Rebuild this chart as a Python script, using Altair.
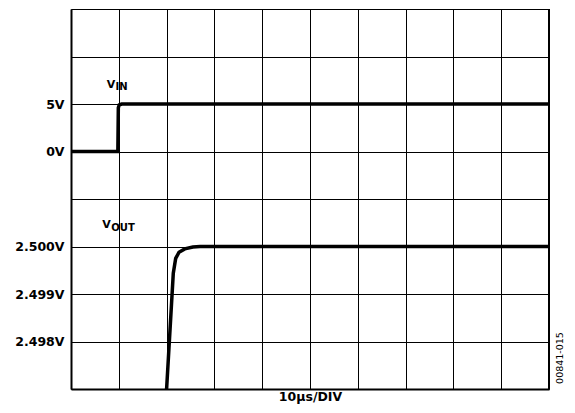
import altair as alt
import pandas as pd

# time axis: 10 us per division, 10 divisions
t_ticks = [0, 10, 20, 30, 40, 50, 60, 70, 80, 90, 100]
div_ticks = [0, 1, 2, 3, 4, 5, 6, 7, 8]

# V_IN trace (volts), 5 V per division, 0 V on division 5
vin_t = [0, 9.8, 9.9, 10.1, 10.6, 100]
vin_v = [0, 0, 4.6, 4.9, 5.0, 5.0]

# V_OUT trace (volts), 1 mV per division, 2.500 V on division 3
vout_t = [19.9, 20.0, 21.4, 21.9, 22.6, 23.8, 25.5, 27.0, 100]
vout_v = [2.4969, 2.4970, 2.49944, 2.49975, 2.49988, 2.49995, 2.49999, 2.5, 2.5]

tick_labels = {6: "5V", 5: "0V", 3: "2.500V", 2: "2.499V", 1: "2.498V"}

vin = pd.DataFrame({"t": vin_t, "div": [5 + v / 5 for v in vin_v], "trace": "VIN"})
vout = pd.DataFrame({"t": vout_t, "div": [3 + (v - 2.5) * 1000 for v in vout_v], "trace": "VOUT"})

label_expr = " : ".join(
    [f"datum.value == {k} ? '{v}'" for k, v in tick_labels.items()] + ["''"]
)

FONT = "DejaVu Sans"

xs = alt.Scale(domain=[0, 100], nice=False, zero=False)
ys = alt.Scale(domain=[0, 8], nice=False, zero=False)

x_axis = alt.Axis(values=t_ticks, labels=False, ticks=False, grid=True,
                  gridColor="#000", gridWidth=1, gridOpacity=1,
                  domainColor="#000", domainWidth=2,
                  title="10\u00b5s/DIV", titleFont=FONT, titleFontSize=12.5,
                  titleFontWeight="bold", titleColor="#000", titlePadding=1)
y_axis = alt.Axis(values=div_ticks, labelExpr=label_expr, ticks=False, grid=True,
                  gridColor="#000", gridWidth=1, gridOpacity=1,
                  domainColor="#000", domainWidth=2,
                  labelFont=FONT, labelFontSize=12.5, labelFontWeight="bold",
                  labelColor="#000", labelPadding=7, title=None)

base = alt.Chart(pd.concat([vin, vout]))

lines = base.mark_line(color="#000", strokeWidth=3.5, clip=True, interpolate="linear").encode(
    x=alt.X("t:Q", scale=xs, axis=x_axis),
    y=alt.Y("div:Q", scale=ys, axis=y_axis),
    detail="trace:N",
)

right_border = alt.Chart(pd.DataFrame({"t": [100]})).mark_rule(color="#000", strokeWidth=2).encode(
    x=alt.X("t:Q", scale=xs)
)

main_lbl = pd.DataFrame({"t": [7.47, 6.55], "div": [6.33, 3.38], "txt": ["V", "V"]})
sub_lbl = pd.DataFrame({"t": [9.31, 8.43], "div": [6.29, 3.33], "txt": ["IN", "OUT"]})

main_text = alt.Chart(main_lbl).mark_text(
    font=FONT, fontSize=11, fontWeight="bold", color="#000", align="left", baseline="alphabetic"
).encode(x=alt.X("t:Q", scale=xs), y=alt.Y("div:Q", scale=ys), text="txt:N")

sub_text = alt.Chart(sub_lbl).mark_text(
    font=FONT, fontSize=10, fontWeight="bold", color="#000", align="left", baseline="alphabetic"
).encode(x=alt.X("t:Q", scale=xs), y=alt.Y("div:Q", scale=ys), text="txt:N")

code_text = alt.Chart(pd.DataFrame({"txt": ["00841-015"]})).mark_text(
    font=FONT, fontSize=9.5, color="#000", angle=270, align="center", baseline="middle"
).encode(x=alt.value(489), y=alt.value(349), text="txt:N")

chart = alt.layer(lines, right_border, main_text, sub_text, code_text).properties(
    width=478, height=380,
    autosize=alt.AutoSizeParams(type="none"),
    padding={"left": 63, "top": 1, "right": 18, "bottom": 16},
).configure_view(stroke=None).configure(background="white")

chart.save("out.html", embed_options={"renderer": "svg", "actions": False})
